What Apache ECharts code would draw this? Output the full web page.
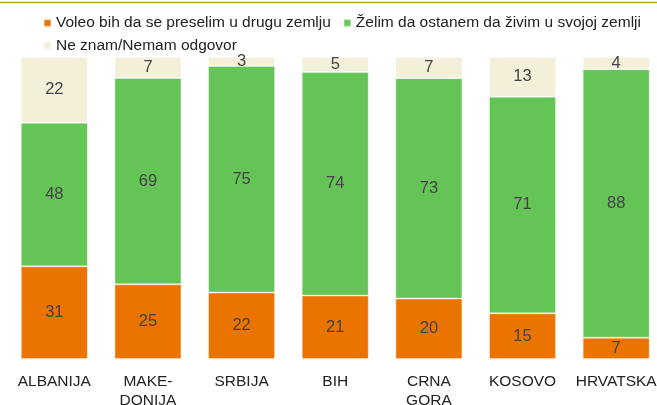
<!DOCTYPE html>
<html>
<head>
<meta charset="utf-8">
<script src="https://cdn.jsdelivr.net/npm/echarts@6/dist/echarts.min.js"></script>
<style>
html,body{margin:0;padding:0;background:#fff;}
#chart{width:657px;height:405px;}
</style>
</head>
<body>
<div id="chart"></div>
<script>
const categories = ['ALBANIJA', 'MAKE-\nDONIJA', 'SRBIJA', 'BIH', 'CRNA\nGORA', 'KOSOVO', 'HRVATSKA'];
const seriesNames = ['Voleo bih da se preselim u drugu zemlju', 'Želim da ostanem da živim u svojoj zemlji', 'Ne znam/Nemam odgovor'];
const leaveValues = [31, 25, 22, 21, 20, 15, 7];
const stayValues = [48, 69, 75, 74, 73, 71, 88];
const dontKnowValues = [22, 7, 3, 5, 7, 13, 4];

const raw = [leaveValues, stayValues, dontKnowValues];
const colors = ['#EB7400', '#64C455', '#F4EFD9'];
const totals = categories.map((c, i) => raw.reduce((s, arr) => s + arr[i], 0));

const chart = echarts.init(document.getElementById('chart'));
const FONT = '"Liberation Sans", Arial, Helvetica, sans-serif';

const legendBase = {
  left: 43,
  padding: 0,
  itemWidth: 7,
  itemHeight: 7,
  itemGap: 12,
  icon: 'rect',
  textStyle: { fontSize: 15.5, color: '#222', fontFamily: FONT }
};

chart.setOption({
  animation: false,
  textStyle: { fontFamily: FONT },
  graphic: [{
    type: 'line',
    shape: { x1: 0, y1: 2.5, x2: 657, y2: 2.5 },
    style: { stroke: '#B0A231', lineWidth: 1.5 }
  }],
  legend: [
    Object.assign({}, legendBase, { top: 15, data: seriesNames.slice(0, 2) }),
    Object.assign({}, legendBase, { top: 37.5, data: seriesNames.slice(2) })
  ],
  grid: { left: 7.5, width: 655.5, top: 57, bottom: 46, outerBoundsMode: 'none' },
  xAxis: {
    type: 'category',
    data: categories,
    axisLine: { show: false },
    axisTick: { show: false },
    axisLabel: { fontSize: 15.5, color: '#222', fontFamily: FONT, lineHeight: 19, margin: 13, interval: 0 }
  },
  yAxis: { type: 'value', min: 0, max: 100, show: false },
  series: raw.map((arr, si) => ({
    name: seriesNames[si],
    type: 'bar',
    stack: 'total',
    barWidth: 67,
    itemStyle: { color: colors[si], borderColor: 'rgba(255,255,255,0.35)', borderWidth: 1 },
    label: {
      show: true,
      position: 'inside',
      fontSize: 16.5,
      color: '#444',
      fontFamily: FONT,
      formatter: p => String(arr[p.dataIndex])
    },
    data: arr.map((v, i) => v * 100 / totals[i])
  }))
});
</script>
</body>
</html>
